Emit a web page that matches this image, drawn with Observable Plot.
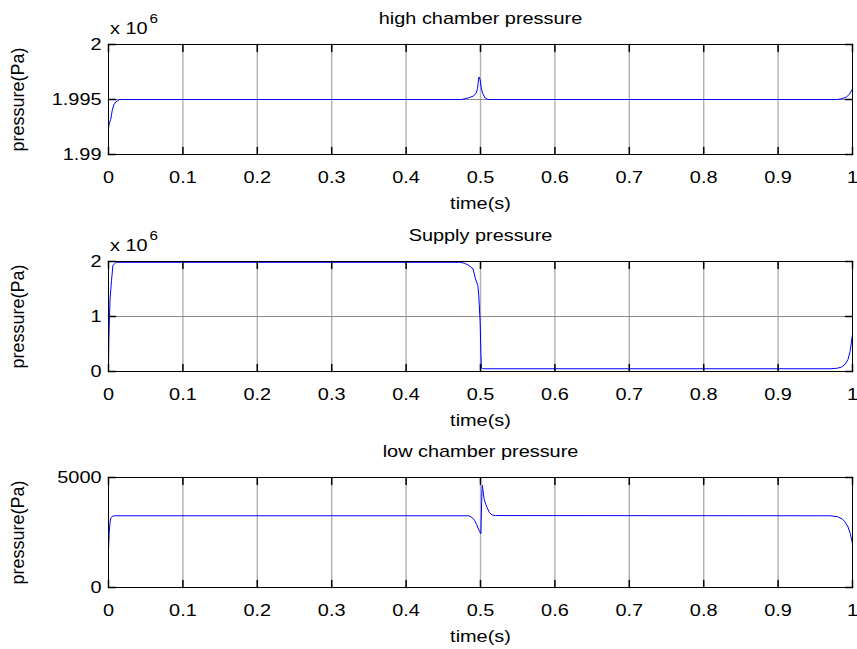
<!DOCTYPE html>
<html><head><meta charset="utf-8">
<script src="https://cdn.jsdelivr.net/npm/d3@7"></script>
<script src="https://cdn.jsdelivr.net/npm/@observablehq/plot@0.6"></script>
<style>
body{margin:0;background:#fff;}
#wrap{position:relative;width:857px;height:649px;overflow:hidden;background:#fff;}
#wrap svg{position:absolute;left:0;overflow:visible;}
</style></head><body><div id="wrap"></div>
<script>
// ---- data ----
const xTicks = [0, 0.1, 0.2, 0.3, 0.4, 0.5, 0.6, 0.7, 0.8, 0.9, 1];
const xTickLabels = ["0", "0.1", "0.2", "0.3", "0.4", "0.5", "0.6", "0.7", "0.8", "0.9", "1"];

const highTitle = "high chamber pressure";
const highT = [0, 0.001, 0.003, 0.005, 0.007, 0.010, 0.015, 0.475, 0.484, 0.490, 0.494, 0.496, 0.497, 0.498, 0.4995, 0.501, 0.503, 0.506, 0.510, 0.980, 0.986, 0.992, 0.996, 1.0];
const highP = [1992400, 1992800, 1993200, 1994000, 1994500, 1994800, 1995000, 1995000, 1995150, 1995300, 1995550, 1996000, 1996600, 1997050, 1996800, 1996050, 1995550, 1995150, 1995000, 1995000, 1995080, 1995230, 1995500, 1995950];
const highYTicks = [1990000, 1995000, 2000000];
const highYLabels = ["1.99", "1.995", "2"];

const supplyTitle = "Supply pressure";
const supplyT = [0, 0.0005, 0.002, 0.004, 0.006, 0.010, 0.472, 0.478, 0.483, 0.487, 0.490, 0.4933, 0.4965, 0.4977, 0.4996, 0.5005, 0.5012, 0.503, 0.970, 0.980, 0.985, 0.990, 0.994, 0.997, 1.0];
const supplyP = [20000, 600000, 1300000, 1650000, 1930000, 1985000, 1985000, 1970000, 1940000, 1900000, 1866000, 1683000, 1560000, 1376000, 886000, 350000, 60000, 50000, 50000, 60000, 80000, 130000, 220000, 380000, 680000];
const supplyYTicks = [0, 1000000, 2000000];
const supplyYLabels = ["0", "1", "2"];

const lowTitle = "low chamber pressure";
const lowT = [0, 0.001, 0.002, 0.003, 0.005, 0.008, 0.484, 0.488, 0.492, 0.495, 0.498, 0.5005, 0.5015, 0.502, 0.5025, 0.503, 0.505, 0.508, 0.512, 0.516, 0.520, 0.970, 0.980, 0.986, 0.990, 0.994, 0.997, 1.0];
const lowP = [1700, 2500, 2950, 3150, 3230, 3260, 3260, 3200, 3050, 2850, 2600, 2450, 3800, 4500, 4650, 4500, 4000, 3700, 3400, 3290, 3270, 3260, 3220, 3120, 2980, 2750, 2450, 2000];
const lowYTicks = [0, 5000];
const lowYLabels = ["0", "5000"];

const xLabel = "time(s)";
const yLabel = "pressure(Pa)";
const exponentBase = "x 10";
const exponentPow = "6";

// ---- drawing ----
const FONT = "Liberation Sans, Arial, Helvetica, sans-serif";
const STRETCH = 1.17;
const tickShape = {draw(ctx, l) { ctx.moveTo(0, 0); ctx.lineTo(0, -l); }};

function panel({title, t, v, yDomain, yTicks, yLabels, yGrid, exponent, top}) {
  const data = t.map((d, i) => ({t: d, v: v[i]}));
  const marks = [
    Plot.ruleX(xTicks.slice(1, -1), {x: d => d, stroke: "#b0b0b0", strokeWidth: 1.4}),
    Plot.ruleY(yGrid, {y: d => d, stroke: "#8c8c8c", strokeWidth: 1}),
    Plot.line(data, {x: "t", y: "v", stroke: "#0000ff", strokeWidth: 1}),
    Plot.frame({stroke: "black", strokeWidth: 1}),
    Plot.vector(xTicks, {x: d => d, frameAnchor: "bottom", length: 7, rotate: 0, anchor: "start", shape: tickShape, stroke: "black"}),
    Plot.vector(xTicks, {x: d => d, frameAnchor: "top", length: 7, rotate: 180, anchor: "start", shape: tickShape, stroke: "black"}),
    Plot.vector(yTicks, {y: d => d, frameAnchor: "left", length: 7, rotate: 90, anchor: "start", shape: tickShape, stroke: "black"}),
    Plot.vector(yTicks, {y: d => d, frameAnchor: "right", length: 7, rotate: -90, anchor: "start", shape: tickShape, stroke: "black"}),
    Plot.axisX({ticks: xTicks, tickSize: 0, tickPadding: 16, tickFormat: (d, i) => xTickLabels[i], label: null, fontSize: 17}),
    Plot.axisY({ticks: yTicks, tickSize: 0, tickPadding: 7, tickFormat: (d, i) => yLabels[i], label: null, fontSize: 17}),
    Plot.text([title], {text: d => d, frameAnchor: "top", lineAnchor: "bottom", dy: -21, fontSize: 17}),
    Plot.text([xLabel], {text: d => d, frameAnchor: "bottom", lineAnchor: "bottom", dy: 54, fontSize: 17}),
    Plot.text([yLabel], {text: d => d, frameAnchor: "left", textAnchor: "middle", lineAnchor: "middle", dx: -90, rotate: -90, fontSize: 18, ariaLabel: "ylabel"})
  ];
  if (exponent) {
    marks.push(Plot.text([exponentBase], {text: d => d, frameAnchor: "top-left", textAnchor: "start", lineAnchor: "bottom", dx: 1.5, dy: -11, fontSize: 17}));
    marks.push(Plot.text([exponentPow], {text: d => d, frameAnchor: "top-left", textAnchor: "start", lineAnchor: "bottom", dx: 41, dy: -22, fontSize: 13}));
  }
  const svg = Plot.plot({
    width: 857, height: 216,
    marginLeft: 108, marginRight: 5, marginTop: 44, marginBottom: 62,
    style: {fontFamily: FONT, fontSize: "17px", color: "black", background: "transparent", overflow: "visible"},
    x: {domain: [0, 1]},
    y: {domain: yDomain},
    marks
  });
  svg.style.top = top + "px";
  document.getElementById("wrap").appendChild(svg);
  svg.querySelectorAll("text").forEach(el => {
    if (el.closest('[transform*="rotate"]') || el.closest('[aria-label="ylabel"]')) return;
    if (el.textContent === yLabel) return;
    const len = el.getComputedTextLength();
    if (len > 0) {
      el.setAttribute("textLength", len * STRETCH);
      el.setAttribute("lengthAdjust", "spacingAndGlyphs");
    }
  });
  return svg;
}

panel({title: highTitle, t: highT, v: highP, yDomain: [1990000, 2000000], yTicks: highYTicks, yLabels: highYLabels, yGrid: [1995000], exponent: true, top: 0});
panel({title: supplyTitle, t: supplyT, v: supplyP, yDomain: [0, 2000000], yTicks: supplyYTicks, yLabels: supplyYLabels, yGrid: [1000000], exponent: true, top: 217});
panel({title: lowTitle, t: lowT, v: lowP, yDomain: [0, 5000], yTicks: lowYTicks, yLabels: lowYLabels, yGrid: [], exponent: false, top: 433});
</script></body></html>
